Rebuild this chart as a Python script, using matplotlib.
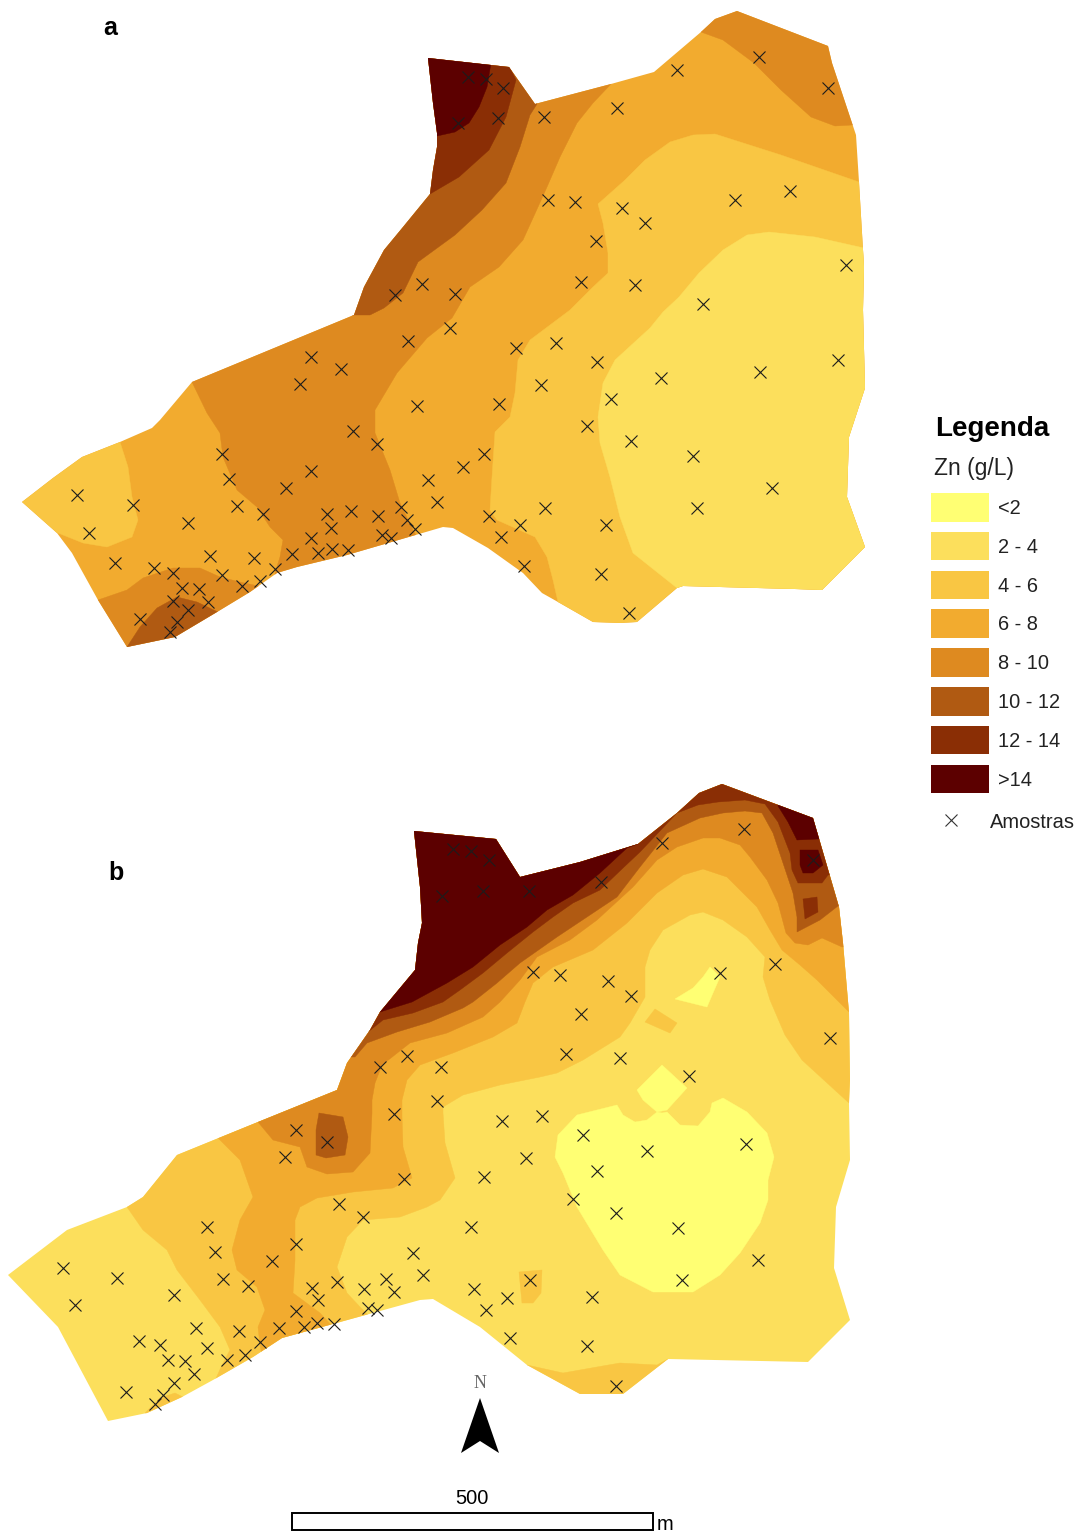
import matplotlib
matplotlib.use('Agg')
import matplotlib.pyplot as plt
from matplotlib.patches import Polygon, Rectangle

plt.rcParams['font.family'] = ['Liberation Sans', 'DejaVu Sans']

# class colours
C_LT2 = '#FFFF73'
C_2_4 = '#FCDF5C'
C_4_6 = '#F9C643'
C_6_8 = '#F2AB2F'
C_8_10 = '#DE8A20'
C_10_12 = '#B05A12'
C_12_14 = '#8A2E05'
C_GT14 = '#5C0000'

legend_labels = ['<2', '2 - 4', '4 - 6', '6 - 8', '8 - 10', '10 - 12', '12 - 14', '>14']
legend_colors = [C_LT2, C_2_4, C_4_6, C_6_8, C_8_10, C_10_12, C_12_14, C_GT14]

# ---- map a (image pixel coordinates)
outline_a = [(428,58),(509,67),(535,104),(611,84),(654,72),(701,32),(715,19),(737,11),(828,46),(832,63),
             (856,135),(859,182),(864,267),(863,310),(865,388),(849,437),(847,497),(865,547),(822,590),
             (795,589),(683,586),(677,588),(637,622),(620,623),(593,622),(558,602),(542,593),(523,573),
             (488,548),(453,528),(443,527),(347,555),(297,567),(277,573),(250,592),(217,612),(175,637),
             (127,647),(98,600),(72,553),(57,533),(22,502),(53,478),(82,457),(120,442),(152,428),(160,420),
             (192,382),(354,315),(364,287),(384,250),(403,227),(430,194),(433,170),(437,147),(437,133),(433,103)]
a_4_6_east = [(859,182),(781,155),(715,134),(693,135),(670,142),(645,160),(625,180),(598,204),(603,223),
              (608,253),(608,273),(593,287),(570,310),(530,340),(518,360),(515,393),(510,417),(495,432),
              (492,477),(490,510),(497,520),(535,537),(547,557),(553,580),(558,602),(560,640),(900,640),(900,182)]
a_2_4 = [(864,248),(815,237),(769,232),(747,235),(723,250),(699,273),(679,297),(663,312),(650,328),(615,360),
         (603,383),(598,417),(600,443),(610,477),(620,517),(633,553),(677,588),(700,640),(900,640),(900,248)]
a_4_6_west = [(120,442),(128,467),(132,497),(138,520),(132,537),(107,547),(83,543),(58,533),(0,520),(0,420),(120,420)]
a_8_10_main = [(192,382),(207,413),(220,433),(223,457),(237,490),(257,507),(270,527),(283,540),(280,557),(275,573),
               (275,600),(430,560),(413,530),(400,503),(390,470),(375,433),(375,410),(397,373),(427,338),(452,318),
               (470,287),(499,267),(523,240),(538,207),(547,187),(560,157),(577,123),(593,103),(611,84),(611,50),
               (400,30),(340,300),(192,360)]
a_8_10_sw = [(98,600),(127,590),(143,578),(173,568),(200,568),(220,577),(240,582),(263,587),(263,620),(120,670),(80,610)]
a_8_10_ne = [(701,32),(723,40),(754,63),(781,90),(811,117),(835,126),(852,125),(880,125),(880,0),(701,0)]
a_10_12_n = [(354,315),(370,315),(384,308),(403,293),(418,262),(455,235),(482,210),(506,183),(520,147),(530,115),
             (537,104),(537,40),(380,30),(330,320)]
a_10_12_sw = [(127,647),(140,627),(157,608),(177,597),(197,602),(218,612),(218,660),(127,660)]
a_12_14 = [(430,194),(459,177),(489,150),(506,117),(516,80),(509,66),(509,40),(400,40),(400,194)]
a_gt14 = [(491,63),(487,87),(479,107),(469,123),(455,132),(437,136),(400,136),(400,40),(491,40)]

points_a = [(468,77),(486,79),(503,88),(458,123),(498,118),(544,117),(617,108),(677,70),(759,57),(828,88),
            (548,200),(575,202),(622,208),(645,223),(596,241),(735,200),(790,191),(846,265),(581,282),(635,285),
            (703,304),(395,295),(422,284),(455,294),(450,328),(516,348),(556,343),(597,362),(541,385),(499,404),
            (611,399),(587,426),(661,378),(760,372),(838,360),(631,441),(693,456),(772,488),(697,508),(484,454),
            (463,467),(437,502),(545,508),(489,516),(520,525),(606,525),(501,537),(524,566),(601,574),(629,613),
            (428,480),(408,341),(311,357),(341,369),(300,384),(417,406),(353,431),(377,444),(222,454),(229,479),
            (311,471),(286,488),(77,495),(133,505),(237,506),(263,514),(327,514),(351,511),(378,516),(401,507),
            (407,520),(415,529),(188,523),(89,533),(331,528),(311,538),(382,535),(391,538),(292,554),(318,553),
            (332,549),(348,550),(210,556),(254,558),(115,563),(154,568),(173,573),(275,569),(222,575),(260,581),
            (242,586),(182,588),(199,589),(208,602),(173,601),(188,610),(140,619),(177,622),(170,632)]

# ---- map b
outline_b = [(414,831),(496,839),(520,877),(580,862),(638,844),(677,813),(699,793),(722,784),(813,818),(839,907),
             (843,943),(849,1013),(850,1080),(849,1103),(850,1160),(836,1207),(834,1268),(850,1320),(808,1362),
             (668,1359),(623,1394),(580,1394),(527,1365),(480,1327),(433,1299),(420,1300),(282,1338),(253,1357),
             (213,1380),(182,1397),(147,1413),(108,1421),(58,1327),(8,1275),(67,1230),(127,1207),(143,1197),
             (177,1155),(258,1122),(337,1090),(347,1063),(370,1030),(380,1012),(415,970),(418,943),(422,923),(420,887)]
b_4_6 = [(127,1190),(127,1207),(143,1230),(167,1250),(177,1270),(200,1300),(220,1327),(230,1350),(222,1365),(213,1385),
         (240,1400),(375,1340),(375,1322),(360,1307),(347,1293),(337,1267),(347,1237),(363,1220),(400,1217),(427,1207),
         (440,1200),(455,1178),(445,1143),(443,1113),(443,1107),(463,1095),(500,1085),(540,1077),(557,1073),(583,1060),(620,1037),
         (630,1023),(645,997),(645,967),(650,950),(663,930),(690,915),(703,912),(723,920),(747,937),(765,957),(763,977),
         (770,1000),(785,1035),(802,1060),(849,1103),(880,1103),(880,760),(300,760),(100,1150)]
b_4_6_south = [(527,1365),(563,1373),(597,1367),(620,1363),(657,1365),(668,1359),(668,1400),(527,1400)]
b_4_6_spot = [(519,1272),(542,1270),(541,1293),(533,1303),(522,1303)]
b_4_6_small = [(655,1009),(677,1023),(670,1033),(645,1022)]
b_4_6_sw = [(145,1413),(160,1398),(175,1393),(183,1397),(170,1420)]
b_6_8 = [(218,1138),(240,1160),(253,1197),(240,1220),(232,1250),(237,1270),(257,1287),(265,1310),(258,1327),(260,1345),
         (265,1370),(340,1340),(333,1327),(320,1313),(293,1293),(295,1260),(295,1220),(300,1207),(317,1198),(353,1192),
         (393,1188),(412,1178),(403,1147),(402,1117),(402,1100),(407,1080),(420,1065),(453,1053),(493,1037),(517,1023),
         (525,1002),(533,983),(553,967),(593,950),(627,923),(657,893),(683,875),(703,869),(727,877),(740,890),(757,907),
         (770,930),(782,950),(800,965),(817,980),(849,1012),(880,1012),(880,760),(300,760),(200,1100)]
b_8_10 = [(258,1122),(273,1140),(300,1147),(307,1167),(327,1174),(353,1172),(370,1153),(372,1113),(372,1100),(375,1083),
          (382,1065),(410,1043),(447,1033),(483,1017),(500,1002),(520,980),(537,957),(570,940),(597,920),(633,887),
          (657,860),(677,847),(703,838),(720,838),(740,845),(750,857),(767,880),(778,903),(786,933),(795,943),(808,945),
          (822,938),(842,947),(880,947),(880,760),(300,760),(200,1100)]
b_10_12 = [(355,1057),(367,1043),(397,1032),(430,1022),(463,1008),(473,1002),(497,983),(520,963),(557,937),(587,917),(617,897),
           (640,867),(667,833),(700,818),(723,813),(745,811),(762,813),(773,833),(783,863),(793,893),(797,917),(797,932),(820,920),
           (838,906),(880,906),(880,760),(300,760),(300,1057)]
b_10_12_spot = [(319,1113),(343,1117),(348,1137),(345,1155),(326,1158),(316,1155),(316,1130)]
b_12_14 = [(368,1032),(383,1020),(413,1013),(443,1002),(460,990),(483,973),(507,953),(533,932),(553,917),(573,903),(600,890),
           (623,868),(640,852),(677,813),(698,805),(718,802),(745,800),(765,804),(778,822),(790,853),(792,870),(798,883),
           (822,883),(828,875),(880,875),(880,760),(300,760),(340,1032)]
b_12_14_spot = [(803,899),(817,897),(818,912),(805,919)]
b_gt14 = [(380,1012),(412,1002),(447,983),(473,967),(500,945),(527,927),(547,910),(573,895),(600,873),(627,848),
          (638,844),(638,800),(380,800),(350,1012)]
b_gt14_ne = [(778,806),(788,822),(797,840),(818,839),(880,839),(880,780),(778,780)]
b_gt14_spot = [(800,850),(818,850),(823,865),(813,873),(803,873),(800,865)]
b_lt2_main = [(617,1105),(623,1115),(635,1122),(647,1120),(657,1112),(662,1113),(667,1112),(680,1125),(698,1126),(710,1112),
              (712,1103),(723,1098),(747,1112),(767,1133),(774,1157),(768,1180),(768,1200),(760,1223),(740,1253),(720,1275),
              (693,1292),(653,1292),(620,1275),(603,1250),(577,1207),(563,1173),(555,1157),(558,1135),(577,1115),(597,1110)]
b_lt2_diamond = [(662,1065),(687,1088),(667,1110),(657,1112),(643,1100),(637,1090)]
b_lt2_north = [(710,967),(720,977),(713,993),(707,1007),(675,999),(693,988),(703,977)]

points_b = [(453,849),(471,851),(489,860),(442,896),(483,891),(529,891),(601,882),(662,843),(744,829),(813,860),
            (533,972),(560,975),(608,981),(631,996),(581,1014),(720,973),(775,964),(830,1038),(566,1054),(620,1058),
            (407,1056),(380,1067),(441,1067),(689,1076),(437,1101),(502,1121),(542,1116),(583,1135),(526,1158),(647,1151),
            (746,1144),(484,1177),(597,1171),(573,1199),(616,1213),(471,1227),(678,1228),(758,1260),(530,1280),(682,1280),
            (474,1289),(507,1298),(486,1310),(592,1297),(510,1338),(587,1346),(616,1386),(423,1275),(394,1114),(296,1130),
            (327,1142),(285,1157),(404,1179),(339,1204),(363,1217),(207,1227),(296,1244),(413,1253),(215,1252),(272,1261),
            (63,1268),(117,1278),(223,1279),(248,1286),(312,1288),(337,1282),(364,1289),(386,1279),(394,1292),(174,1295),
            (318,1300),(75,1305),(296,1311),(368,1308),(377,1310),(317,1323),(334,1324),(304,1327),(279,1328),(196,1328),
            (239,1331),(260,1342),(139,1341),(160,1345),(207,1348),(245,1355),(168,1360),(185,1361),(227,1360),(194,1374),
            (174,1383),(126,1392),(163,1395),(155,1404)]

layers_a = [(a_4_6_east, C_4_6), (a_2_4, C_2_4), (a_4_6_west, C_4_6), (a_8_10_main, C_8_10),
            (a_8_10_sw, C_8_10), (a_8_10_ne, C_8_10), (a_10_12_n, C_10_12), (a_10_12_sw, C_10_12),
            (a_12_14, C_12_14), (a_gt14, C_GT14)]
layers_b = [(b_4_6, C_4_6), (b_4_6_south, C_4_6), (b_4_6_spot, C_4_6), (b_4_6_small, C_4_6), (b_4_6_sw, C_4_6),
            (b_6_8, C_6_8), (b_8_10, C_8_10), (b_10_12, C_10_12), (b_10_12_spot, C_10_12), (b_12_14, C_12_14),
            (b_12_14_spot, C_12_14), (b_gt14, C_GT14), (b_gt14_ne, C_GT14), (b_gt14_spot, C_GT14),
            (b_lt2_main, C_LT2), (b_lt2_diamond, C_LT2), (b_lt2_north, C_LT2)]


def draw_map(ax, outline, base_color, layers, points):
    base = Polygon(outline, closed=True, facecolor=base_color, edgecolor='none', zorder=1)
    ax.add_patch(base)
    z = 2
    for verts, color in layers:
        p = Polygon(verts, closed=True, facecolor=color, edgecolor=color, linewidth=0.3, zorder=z)
        ax.add_patch(p)
        p.set_clip_path(base)
        z += 1
    xs = [pt[0] for pt in points]
    ys = [pt[1] for pt in points]
    ax.plot(xs, ys, linestyle='none', marker='x', ms=8.5, mew=0.8, color='#1c1c1c', zorder=50)


fig = plt.figure(figsize=(10.81, 15.35), dpi=100)
ax = fig.add_axes([0, 0, 1, 1])
ax.set_xlim(0, 1081)
ax.set_ylim(1535, 0)
ax.axis('off')

draw_map(ax, outline_a, C_6_8, layers_a, points_a)
draw_map(ax, outline_b, C_2_4, layers_b, points_b)

ax.text(110, 28, 'a', fontsize=18, fontweight='bold', ha='center', va='center')
ax.text(116, 873, 'b', fontsize=18, fontweight='bold', ha='center', va='center')

# legend
ax.text(935, 429, 'Legenda', fontsize=20, fontweight='bold', ha='left', va='center')
ax.text(934, 468, 'Zn (g/L)', fontsize=16.5, ha='left', va='center', color='#222222')
for i, (lab, col) in enumerate(zip(legend_labels, legend_colors)):
    top = 493 + i * 38.8
    ax.add_patch(Rectangle((931, top), 58, 28.5, facecolor=col, edgecolor='none'))
    ax.text(998, top + 15.5, lab, fontsize=14.4, ha='left', va='center', color='#222222')
ax.plot([951], [820], linestyle='none', marker='x', ms=8.5, mew=0.8, color='#333333')
ax.text(990, 822.5, 'Amostras', fontsize=14.4, ha='left', va='center', color='#222222')

# north arrow and scale bar
ax.text(480, 1383, 'N', fontsize=13, family=['Liberation Serif'], ha='center', va='center', color='#666666')
ax.add_patch(Polygon([(480, 1398), (499, 1453), (480, 1441), (461, 1453)], closed=True, facecolor='black', edgecolor='none'))
ax.text(472, 1498, '500', fontsize=14.4, ha='center', va='center')
ax.add_patch(Rectangle((292, 1513), 361, 17, facecolor='white', edgecolor='black', linewidth=1.4))
ax.text(657, 1525, 'm', fontsize=14.4, ha='left', va='center')

fig.savefig('out.png', dpi=100)
